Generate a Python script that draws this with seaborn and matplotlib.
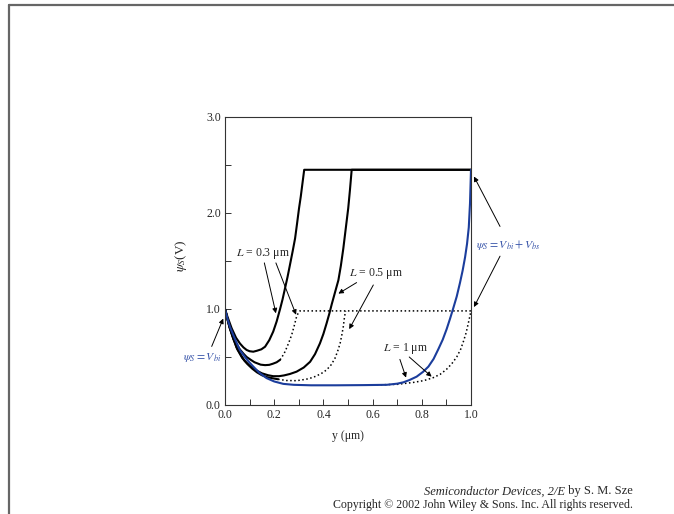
import numpy as np
import pandas as pd
import seaborn as sns
import matplotlib
matplotlib.use("Agg")
import matplotlib.pyplot as plt
from matplotlib.lines import Line2D

# ---- data (y in um, psi_S in V) ----
# L = 0.3 um, high drain bias (solid)
l03_hi_y = [0, 0.01, 0.027, 0.045, 0.061, 0.075, 0.088, 0.1, 0.115, 0.13, 0.148, 0.163,
            0.18, 0.196, 0.21, 0.224, 0.234, 0.244, 0.254, 0.264, 0.275, 0.285, 0.293,
            0.301, 0.308, 0.314, 0.322, 1.0]
l03_hi_v = [1.0, 0.92, 0.80, 0.70, 0.64, 0.60, 0.573, 0.56, 0.555, 0.565, 0.58, 0.607,
            0.675, 0.764, 0.87, 1.0, 1.10, 1.215, 1.33, 1.458, 1.60, 1.736, 1.89,
            2.049, 2.17, 2.29, 2.45, 2.45]
# L = 0.3 um, low drain bias (solid near source, dotted after)
l03_lo_y = [0, 0.01, 0.017, 0.034, 0.06, 0.075, 0.088, 0.105, 0.12, 0.145, 0.163, 0.18,
            0.195, 0.21, 0.224]
l03_lo_v = [1.0, 0.90, 0.82, 0.69, 0.58, 0.535, 0.50, 0.47, 0.445, 0.42, 0.415, 0.418,
            0.43, 0.445, 0.47]
l03_lo_dot_y = [0.224, 0.234, 0.244, 0.258, 0.271, 0.282, 0.291, 0.299, 0.305, 1.0]
l03_lo_dot_v = [0.47, 0.51, 0.555, 0.64, 0.729, 0.83, 0.92, 0.965, 0.98, 0.98]
# L = 0.5 um, high drain bias
l05_hi_y = [0, 0.01, 0.02, 0.035, 0.047, 0.065, 0.08, 0.1, 0.115, 0.135, 0.15, 0.175,
            0.196, 0.22, 0.24, 0.264, 0.291, 0.32, 0.346, 0.366, 0.386, 0.4, 0.413,
            0.424, 0.434, 0.448, 0.461, 0.471, 0.481, 0.491, 0.501, 0.508, 0.515, 1.0]
l05_hi_v = [1.0, 0.90, 0.80, 0.69, 0.60, 0.52, 0.46, 0.41, 0.38, 0.35, 0.33, 0.31,
            0.30, 0.30, 0.308, 0.323, 0.347, 0.39, 0.45, 0.53, 0.642, 0.74, 0.85,
            0.95, 1.05, 1.18, 1.30, 1.45, 1.63, 1.84, 2.05, 2.24, 2.45, 2.45]
# L = 0.5 um, low drain bias
l05_lo_y = [0, 0.01, 0.02, 0.035, 0.05, 0.07, 0.09, 0.11, 0.13, 0.15, 0.17, 0.2, 0.216]
l05_lo_v = [1.0, 0.89, 0.80, 0.68, 0.58, 0.49, 0.43, 0.38, 0.34, 0.31, 0.29, 0.275, 0.268]
l05_lo_dot_y = [0.216, 0.25, 0.291, 0.33, 0.359, 0.39, 0.413, 0.432, 0.447, 0.458,
                0.468, 0.475, 0.481, 0.485, 0.49]
l05_lo_dot_v = [0.268, 0.255, 0.253, 0.268, 0.288, 0.325, 0.365, 0.42, 0.486, 0.56,
                0.642, 0.73, 0.816, 0.90, 0.98]
# L = 1 um, high drain bias (blue)
l1_hi_y = [0, 0.01, 0.02, 0.04, 0.061, 0.09, 0.115, 0.14, 0.169, 0.2, 0.237, 0.28, 0.35,
           0.45, 0.562, 0.657, 0.70, 0.725, 0.75, 0.779, 0.805, 0.827, 0.848, 0.867,
           0.885, 0.901, 0.915, 0.927, 0.942, 0.955, 0.966, 0.976, 0.984, 0.991, 0.996, 1.0]
l1_hi_v = [1.0, 0.90, 0.815, 0.69, 0.57, 0.47, 0.40, 0.335, 0.28, 0.245, 0.22, 0.21, 0.205,
           0.205, 0.207, 0.21, 0.222, 0.236, 0.26, 0.295, 0.345, 0.40, 0.48, 0.58,
           0.68, 0.79, 0.90, 1.0, 1.13, 1.27, 1.40, 1.54, 1.68, 1.85, 2.1, 2.45]
# L = 1 um, low drain bias (dotted)
l1_lo_y = [0.6, 0.7, 0.766, 0.81, 0.847, 0.875, 0.9, 0.922, 0.942, 0.958, 0.969, 0.98,
           0.989, 0.995, 1.0]
l1_lo_v = [0.208, 0.215, 0.235, 0.255, 0.285, 0.32, 0.37, 0.43, 0.50, 0.58, 0.66, 0.75,
           0.85, 0.92, 0.98]

BLUE = "#1b3d9c"
TXT_BLUE = "#3a56aa"

sns.set_theme(style="white")
plt.rcParams["font.family"] = ["Liberation Serif", "DejaVu Serif"]
plt.rcParams["mathtext.fontset"] = "stix"

fig = plt.figure(figsize=(6.74, 5.14), dpi=100)
ax = fig.add_axes([0.3338, 0.2121, 0.3650, 0.5603])


def draw(xs, ys, color="black", ls="-", lw=1.5):
    df = pd.DataFrame({"y": xs, "v": ys})
    sns.lineplot(data=df, x="y", y="v", ax=ax, color=color, linestyle=ls, linewidth=lw,
                 estimator=None, sort=False)


draw(l05_lo_y, l05_lo_v)
draw(l05_lo_dot_y, l05_lo_dot_v, ls=":", lw=1.1)
draw(l03_lo_y, l03_lo_v)
draw(l03_lo_dot_y, l03_lo_dot_v, ls=":", lw=1.1)
draw(l1_lo_y, l1_lo_v, ls=":", lw=1.1)
draw(l03_hi_y, l03_hi_v)
draw(l05_hi_y, l05_hi_v)
draw(l1_hi_y, l1_hi_v, color=BLUE)

ax.set_xlim(0, 1)
ax.set_ylim(0, 3)
ax.set_xticks([0, 0.2, 0.4, 0.6, 0.8, 1.0])
ax.set_xticks(np.arange(0.1, 1.0, 0.2), minor=True)
ax.set_yticks([0, 1, 2, 3])
ax.set_yticks([0.5, 1.5, 2.5], minor=True)
ax.set_xticklabels(["0.0", "0.2", "0.4", "0.6", "0.8", "1.0"])
ax.set_yticklabels(["0.0", "1.0", "2.0", "3.0"])
ax.tick_params(which="both", direction="in", length=4, width=0.7, color="#333333",
               labelsize=8.5, pad=3, bottom=True, left=True)
for s in ax.spines.values():
    s.set_color("#333333")
    s.set_linewidth(0.8)

ax.set_xlabel("y (μm)", fontsize=8.5)
ax.xaxis.set_label_coords(0.5, -0.088)
ax.set_ylabel(r"$\psi_S$(V)", fontsize=9.5)
ax.yaxis.set_label_coords(-0.145, 0.52)

akw = dict(arrowstyle="-|>", color="black", lw=0.7, mutation_scale=7, shrinkA=0, shrinkB=0)
fs = 8.5
ax.text(0.155, 1.58, r"$L$ = 0.3 μm", fontsize=fs, ha="center", va="center")
ax.annotate("", xy=(0.207, 0.955), xytext=(0.16, 1.48), arrowprops=akw)
ax.annotate("", xy=(0.289, 0.94), xytext=(0.207, 1.48), arrowprops=akw)

ax.text(0.613, 1.37, r"$L$ = 0.5 μm", fontsize=fs, ha="center", va="center")
ax.annotate("", xy=(0.461, 1.16), xytext=(0.535, 1.275), arrowprops=akw)
ax.annotate("", xy=(0.505, 0.79), xytext=(0.603, 1.25), arrowprops=akw)

ax.text(0.732, 0.59, r"$L$ = 1 μm", fontsize=fs, ha="center", va="center")
ax.annotate("", xy=(0.736, 0.285), xytext=(0.711, 0.475), arrowprops=akw)
ax.annotate("", xy=(0.84, 0.295), xytext=(0.749, 0.50), arrowprops=akw)

ax.text(1.15, 1.67, r"$\psi_S = V_{bi} + V_{bs}$", fontsize=fs, color=TXT_BLUE,
        ha="center", va="center", clip_on=False)
ax.annotate("", xy=(1.012, 2.38), xytext=(1.118, 1.86), arrowprops=akw, annotation_clip=False)
ax.annotate("", xy=(1.012, 1.02), xytext=(1.118, 1.55), arrowprops=akw, annotation_clip=False)

ax.text(-0.093, 0.49, r"$\psi_S = V_{bi}$", fontsize=fs, color=TXT_BLUE,
        ha="center", va="center", clip_on=False)
ax.annotate("", xy=(-0.007, 0.90), xytext=(-0.054, 0.61), arrowprops=akw, annotation_clip=False)

# page frame
fig.add_artist(Line2D([0.013, 1.0], [0.990, 0.990], color="#666666", lw=1.6))
fig.add_artist(Line2D([0.014, 0.014], [0.0, 0.990], color="#666666", lw=1.6))

# credit lines
t_by = fig.text(0.939, 0.044, " by S. M. Sze", ha="right", va="center", fontsize=9)
fig.canvas.draw()
bb = t_by.get_window_extent().transformed(fig.transFigure.inverted())
fig.text(bb.x0, 0.044, "Semiconductor Devices, 2/E", ha="right", va="center",
         fontsize=9, fontstyle="italic")
fig.text(0.939, 0.017, "Copyright © 2002 John Wiley & Sons. Inc. All rights reserved.",
         ha="right", va="center", fontsize=8.6)

fig.savefig("out.png", dpi=100)
